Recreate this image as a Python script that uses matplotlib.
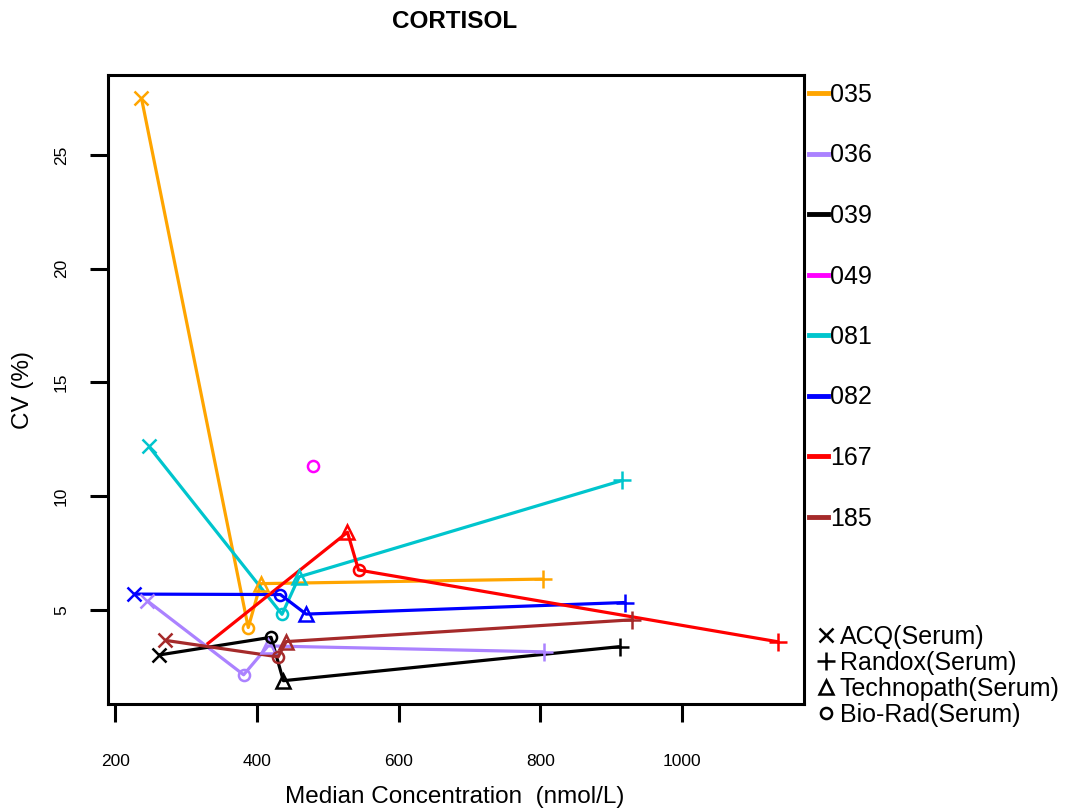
import matplotlib
matplotlib.use("Agg")
import matplotlib.pyplot as plt
from matplotlib.lines import Line2D
import numpy as np

plt.rcParams['font.family'] = ['Liberation Sans', 'DejaVu Sans']

title = "CORTISOL"
x_label = "Median Concentration  (nmol/L)"
y_label = "CV (%)"

labs = ["035", "036", "039", "049", "081", "082", "167", "185"]
colors = ["#FFA500", "#AB82FF", "#000000", "#FF00FF", "#00C5CD", "#0000FF", "#FF0000", "#A52A2A"]

methods = ["ACQ(Serum)", "Randox(Serum)", "Technopath(Serum)", "Bio-Rad(Serum)"]
method_markers = ["x", "+", "^", "o"]

# per lab: values for [ACQ, Randox, Technopath, Bio-Rad]; None = not reported
median_035 = [236.8, 803.4, 405.1, 387.5]
cv_035 = [27.50, 6.35, 6.15, 4.22]
median_036 = [244.7, 804.4, 415.5, 381.0]
cv_036 = [5.40, 3.15, 3.41, 2.14]
median_039 = [261.2, 912.3, 437.1, 419.7]
cv_039 = [3.01, 3.38, 1.88, 3.79]
median_049 = [None, None, None, 479.5]
cv_049 = [None, None, None, 11.34]
median_081 = [247.1, 915.7, 459.3, 435.2]
cv_081 = [12.19, 10.69, 6.45, 4.80]
median_082 = [225.9, 919.4, 469.2, 432.9]
cv_082 = [5.69, 5.32, 4.81, 5.67]
median_167 = [329.0, 1135.8, 527.6, 543.2]
cv_167 = [3.48, 3.59, 8.41, 6.75]
median_185 = [269.3, 929.8, 441.0, 429.8]
cv_185 = [3.66, 4.56, 3.60, 2.93]
# points whose symbol is not visible in the chart (lab, method index)
hidden_symbols = [("167", 0)]

medians = [median_035, median_036, median_039, median_049, median_081, median_082, median_167, median_185]
cvs = [cv_035, cv_036, cv_039, cv_049, cv_081, cv_082, cv_167, cv_185]

x_ticks = [200, 400, 600, 800, 1000]
y_ticks = [5, 10, 15, 20, 25]

marker_sizes = {"x": 10, "+": 13, "^": 10, "o": 8}

fig = plt.figure(figsize=(10.68, 8.10), dpi=100)
ax = fig.add_axes([108/1068, 1 - 704/810, (804-108)/1068, (704-75)/810])

for lab, col, mx, cy in zip(labs, colors, medians, cvs):
    pts = [(m, c, k) for k, (m, c) in enumerate(zip(mx, cy)) if m is not None]
    pts.sort(key=lambda p: p[0])
    xs = [p[0] for p in pts]
    ys = [p[1] for p in pts]
    if len(xs) > 1:
        ax.plot(xs, ys, color=col, lw=2.3, zorder=2, solid_capstyle='butt')
    for m, c, k in pts:
        if (lab, k) in hidden_symbols:
            continue
        mk = method_markers[k]
        ax.plot([m], [c], linestyle='none', marker=mk, markersize=marker_sizes[mk],
                markeredgewidth=1.8, markeredgecolor=col, markerfacecolor='none',
                color=col, zorder=3)

xmin = min(v for arr in medians for v in arr if v is not None)
xmax = max(v for arr in medians for v in arr if v is not None)
ymin = min(v for arr in cvs for v in arr if v is not None)
ymax = max(v for arr in cvs for v in arr if v is not None)
dx = (xmax - xmin) * 0.04
dy = (ymax - ymin) * 0.04
ax.set_xlim(xmin - dx, xmax + dx)
ax.set_ylim(ymin - dy, ymax + dy)

ax.set_xticks(x_ticks)
ax.set_yticks(y_ticks)
ax.tick_params(axis='both', direction='out', length=13, width=2.2, labelsize=12.5)
ax.tick_params(axis='x', pad=23)
ax.tick_params(axis='y', pad=15)
for lbl in ax.get_yticklabels():
    lbl.set_rotation(90)
    lbl.set_va('center')
for sp in ax.spines.values():
    sp.set_linewidth(2.2)

fig.text(455/1068, 1 - 22/810, title, ha='center', va='center', fontsize=17.5, fontweight='bold')
fig.text(455/1068, 1 - 797/810, x_label, ha='center', va='center', fontsize=17.5)
fig.text(23/1068, 1 - 390/810, y_label, ha='center', va='center', fontsize=17.5, rotation=90)

# lab legend
lab_handles = [Line2D([0], [0], color=c, lw=3.5) for c in colors]
leg1 = fig.legend(lab_handles, labs, loc='upper left',
                  bbox_to_anchor=(809/1068, 1 - 83/810), frameon=False,
                  fontsize=18, handlelength=0.75, handletextpad=0.1,
                  labelspacing=1.46, borderaxespad=0, borderpad=0)

# method legend
m_handles = [Line2D([0], [0], color='black', linestyle='none', marker=mk,
                    markersize=marker_sizes[mk],
                    markeredgewidth=1.8, markerfacecolor='none')
             for mk in method_markers]
leg2 = fig.legend(m_handles, methods, loc='upper left',
                  bbox_to_anchor=(817/1068, 1 - 625/810), frameon=False,
                  fontsize=18, handlelength=0.7, handletextpad=0.2,
                  labelspacing=0.08, borderaxespad=0, borderpad=0)

fig.savefig("out.png", dpi=100)
